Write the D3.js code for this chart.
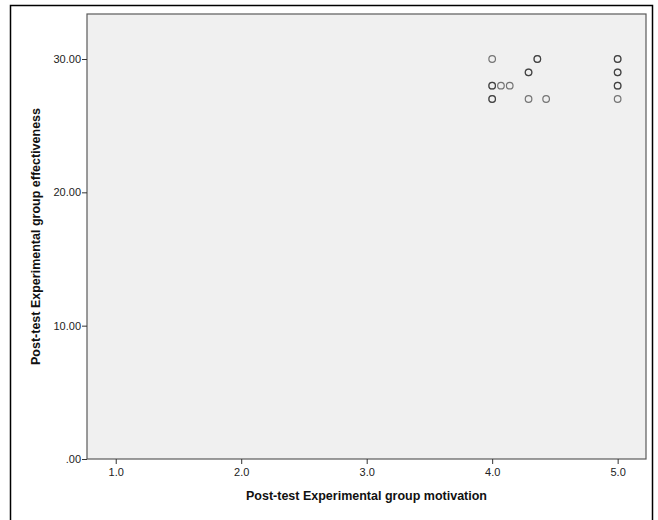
<!DOCTYPE html>
<html><head><meta charset="utf-8">
<script src="https://cdn.jsdelivr.net/npm/d3@7"></script>
<style>body{margin:0;background:#fff;} svg{display:block;font-family:"Liberation Sans",Arial,sans-serif;}</style>
</head><body>
<script>
const xVals = [4.0, 4.36, 4.36, 4.29, 4.29, 4.0, 4.0, 4.07, 4.14, 4.0, 4.0, 4.29, 4.43, 5.0, 5.0, 5.0, 5.0, 5.0, 5.0, 5.0];
const yVals = [30, 30, 30, 29, 29, 28, 28, 28, 28, 27, 27, 27, 27, 30, 30, 29, 29, 28, 28, 27];
const xTicks = [1, 2, 3, 4, 5];
const yTicks = [0, 10, 20, 30];
const xTitle = "Post-test Experimental group motivation";
const yTitle = "Post-test Experimental group effectiveness";

const W = 658, H = 520;
const svg = d3.select("body").append("svg").attr("width", W).attr("height", H);
svg.append("rect").attr("x", 10.5).attr("y", 5.5).attr("width", 642).attr("height", 530)
  .attr("fill", "#fff").attr("stroke", "#000").attr("stroke-width", 1.5);

const L = 87, R = 646, T = 14, B = 459;
const x = d3.scaleLinear().domain([0.771, 5.226]).range([L, R]);
const y = d3.scaleLinear().domain([0, 33.375]).range([B, T]);

svg.append("rect").attr("x", L).attr("y", T).attr("width", R - L).attr("height", B - T)
  .attr("fill", "#f0f0f0").attr("stroke", "#5a5a5a").attr("stroke-width", 1.2);

const xa = svg.append("g").attr("transform", `translate(0,${B})`)
  .call(d3.axisBottom(x).tickValues(xTicks).tickFormat(d3.format(".1f")).tickSize(5).tickPadding(4));
const ya = svg.append("g").attr("transform", `translate(${L},0)`)
  .call(d3.axisLeft(y).tickValues(yTicks).tickFormat(d => d === 0 ? ".00" : d3.format(".2f")(d)).tickSize(5).tickPadding(1));
[xa, ya].forEach(a => {
  a.select(".domain").remove();
  a.selectAll("line").attr("stroke", "#333");
  a.selectAll("text").attr("fill", "#222").style("font-size", "11px").style("font-family", "Liberation Sans, Arial, sans-serif");
});

svg.append("g").selectAll("circle").data(xVals.map((v, i) => [v, yVals[i]])).join("circle")
  .attr("cx", d => x(d[0])).attr("cy", d => y(d[1])).attr("r", 3.3)
  .attr("fill", "none").attr("stroke", "#222").attr("stroke-opacity", 0.6).attr("stroke-width", 1.2);

svg.append("text").attr("x", (L + R) / 2).attr("y", 500).attr("text-anchor", "middle")
  .style("font-size", "12.5px").style("font-weight", "bold").attr("fill", "#111").text(xTitle);
svg.append("text").attr("transform", `translate(40,${(T + B) / 2}) rotate(-90)`).attr("text-anchor", "middle")
  .style("font-size", "12.5px").style("font-weight", "bold").attr("fill", "#111").text(yTitle);
</script>
</body></html>
